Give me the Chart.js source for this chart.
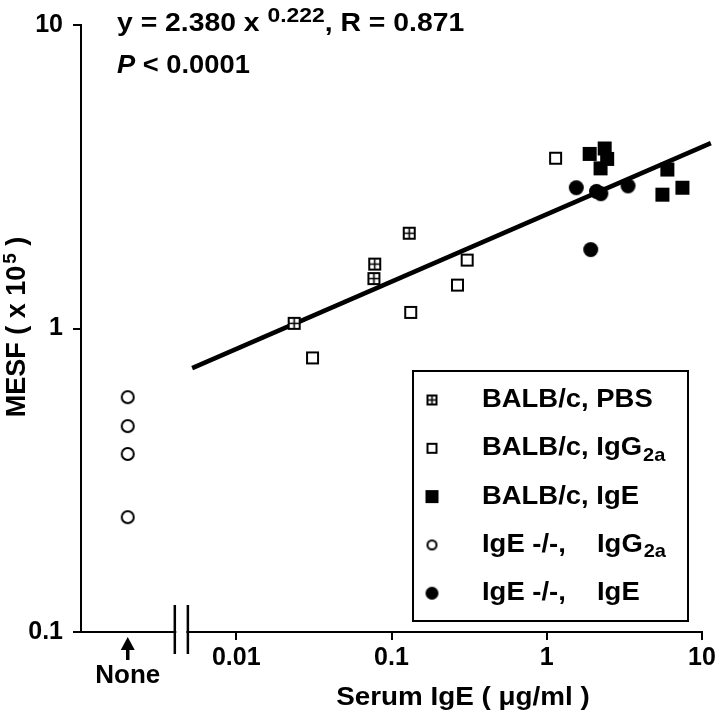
<!DOCTYPE html>
<html>
<head>
<meta charset="utf-8">
<script src="https://cdn.jsdelivr.net/npm/chart.js@4.4.1/dist/chart.umd.min.js"></script>
<style>
  html, body { margin: 0; padding: 0; background: #fff; }
  #wrap { width: 720px; height: 718px; }
</style>
</head>
<body>
<div id="wrap"><canvas id="chart" width="720" height="718"></canvas></div>
<script>
/* MESF vs serum IgE, log-log scatter with power-law fit */

var FONT = '"Liberation Sans", Arial, Helvetica, sans-serif';

// x = serum IgE (ug/ml), y = MESF (x 10^5)
var pbsX = [0.0236, 0.077, 0.078, 0.130];
var pbsY = [1.04, 1.46, 1.63, 2.06];
var bIgg2aX = [0.031, 0.133, 0.266, 0.307, 1.14];
var bIgg2aY = [0.80, 1.13, 1.39, 1.68, 3.64];
var bIgeX = [1.89, 2.22, 2.36, 2.45, 5.56, 5.98, 7.48];
var bIgeY = [3.76, 3.37, 3.92, 3.62, 2.76, 3.34, 2.91];
var koIgg2aX = [0.002, 0.002, 0.002, 0.002]; // plotted at "None"
var koIgg2aY = [0.239, 0.386, 0.477, 0.594];
var koIgeX = [1.55, 1.92, 2.09, 2.23, 3.34];
var koIgeY = [2.91, 1.82, 2.83, 2.78, 2.95];

// regression line end points
var fitX = [0.0052, 11.4];
var fitY = [0.74, 4.08];

var xTicks = [0.01, 0.1, 1, 10];
var xTickLabels = ['0.01', '0.1', '1', '10'];
var yTicks = [0.1, 1, 10];
var yTickLabels = ['0.1', '1', '10'];
var noneX = 0.002;
var noneLabel = 'None';
var breakX = [0.00402, 0.00488];

var legendMain = ['BALB/c, PBS', 'BALB/c, IgG', 'BALB/c, IgE', 'IgE -/-,', 'IgE -/-,'];
var legendSecond = ['', '', '', 'IgG', 'IgE'];
var legendSub = ['', '2a', '', '2a', ''];
var legendKinds = ['cross', 'open', 'filled', 'ring', 'dot'];

var eqParts = ['y = 2.380 x ', '0.222', ', R = 0.871'];
var pParts = ['P', ' < 0.0001'];
var xTitle = 'Serum IgE ( \u03bcg/ml )';
var yTitle = ['MESF ( x 10', '5', ' )'];

function makeMarker(kind, size) {
  var pad = 2;
  var c = document.createElement('canvas');
  c.width = size + pad * 2;
  c.height = size + pad * 2;
  var g = c.getContext('2d');
  var s = size, m = pad, mid = pad + size / 2;
  g.strokeStyle = '#000';
  g.fillStyle = '#000';
  g.lineWidth = 2;
  if (kind === 'cross' || kind === 'open') {
    g.fillStyle = '#fff';
    g.fillRect(m + 1, m + 1, s - 2, s - 2);
    g.strokeRect(m + 1, m + 1, s - 2, s - 2);
    if (kind === 'cross') {
      g.lineWidth = 1.6;
      g.beginPath();
      g.moveTo(mid, m + 1); g.lineTo(mid, m + s - 1);
      g.moveTo(m + 1, mid); g.lineTo(m + s - 1, mid);
      g.stroke();
    }
  } else if (kind === 'filled') {
    g.fillRect(m, m, s, s);
  } else if (kind === 'ring') {
    g.fillStyle = '#fff';
    g.beginPath();
    g.arc(mid, mid, s / 2 - 1, 0, Math.PI * 2);
    g.fill();
    g.stroke();
  } else {
    g.beginPath();
    g.arc(mid, mid, s / 2, 0, Math.PI * 2);
    g.fill();
  }
  return c;
}

var plotMarkers = {
  cross: makeMarker('cross', 13),
  open: makeMarker('open', 13),
  filled: makeMarker('filled', 14),
  ring: makeMarker('ring', 14),
  dot: makeMarker('dot', 15)
};
var legendMarkers = {
  cross: makeMarker('cross', 11),
  open: makeMarker('open', 11),
  filled: makeMarker('filled', 13),
  ring: makeMarker('ring', 11),
  dot: makeMarker('dot', 13)
};

function toPoints(xs, ys) {
  return xs.map(function (x, i) { return { x: x, y: ys[i] }; });
}

function scatterSet(label, xs, ys, kind) {
  return {
    type: 'scatter',
    label: label,
    data: toPoints(xs, ys),
    pointStyle: plotMarkers[kind],
    pointRadius: 7
  };
}

// the original lettering is a little wider than Liberation Sans
function stretchText(ctx, text, x, y, sx) {
  ctx.save();
  ctx.translate(x, y);
  ctx.scale(sx, 1);
  ctx.fillText(text, 0, 0);
  ctx.restore();
  return ctx.measureText(text).width * sx;
}

var overlay = {
  id: 'overlay',
  afterDraw: function (chart) {
    var ctx = chart.ctx;
    var xs = chart.scales.x;
    var area = chart.chartArea;
    var i, x;
    ctx.save();
    ctx.fillStyle = '#000';
    ctx.strokeStyle = '#000';

    // equation + P value
    ctx.textAlign = 'left';
    ctx.textBaseline = 'alphabetic';
    x = 117;
    ctx.font = 'bold 26px ' + FONT;
    x += stretchText(ctx, eqParts[0], x, 31, 1.09);
    ctx.font = 'bold 21px ' + FONT;
    x += stretchText(ctx, eqParts[1], x, 22, 1.09);
    ctx.font = 'bold 26px ' + FONT;
    stretchText(ctx, eqParts[2], x, 31, 1.09);

    x = 117;
    ctx.font = 'italic bold 26px ' + FONT;
    x += stretchText(ctx, pParts[0], x, 73, 1.05);
    ctx.font = 'bold 26px ' + FONT;
    stretchText(ctx, pParts[1], x, 73, 1.05);

    // axis break
    var b1 = xs.getPixelForValue(breakX[0]);
    var b2 = xs.getPixelForValue(breakX[1]);
    ctx.fillStyle = '#fff';
    ctx.fillRect(b1 + 1.5, area.bottom - 3, b2 - b1 - 3, 6);
    ctx.fillStyle = '#000';
    ctx.lineWidth = 2.5;
    ctx.beginPath();
    ctx.moveTo(b1, area.bottom - 27); ctx.lineTo(b1, area.bottom + 22);
    ctx.moveTo(b2, area.bottom - 27); ctx.lineTo(b2, area.bottom + 22);
    ctx.stroke();

    // "None" arrow and label
    var nx = xs.getPixelForValue(noneX);
    ctx.lineWidth = 3.5;
    ctx.beginPath();
    ctx.moveTo(nx, area.bottom + 28); ctx.lineTo(nx, area.bottom + 14);
    ctx.stroke();
    ctx.beginPath();
    ctx.moveTo(nx, area.bottom + 5);
    ctx.lineTo(nx + 7, area.bottom + 18);
    ctx.lineTo(nx - 7, area.bottom + 18);
    ctx.closePath();
    ctx.fill();
    ctx.font = 'bold 26px ' + FONT;
    ctx.textAlign = 'center';
    ctx.textBaseline = 'middle';
    ctx.fillText(noneLabel, nx, 676);

    // x title
    ctx.textAlign = 'left';
    ctx.font = 'bold 26px ' + FONT;
    var tw = ctx.measureText(xTitle).width * 1.07;
    stretchText(ctx, xTitle, 463 - tw / 2, 698, 1.07);

    // y title (rotated, with superscript)
    ctx.save();
    ctx.translate(18, 328);
    ctx.rotate(-Math.PI / 2);
    ctx.font = 'bold 27px ' + FONT;
    var w1 = ctx.measureText(yTitle[0]).width;
    var w3 = ctx.measureText(yTitle[2]).width;
    ctx.font = 'bold 19px ' + FONT;
    var w2 = ctx.measureText(yTitle[1]).width;
    var sx = -(w1 + w2 + w3) / 2;
    ctx.font = 'bold 27px ' + FONT;
    ctx.fillText(yTitle[0], sx, 0);
    ctx.font = 'bold 19px ' + FONT;
    ctx.fillText(yTitle[1], sx + w1 + 2, -7);
    ctx.font = 'bold 27px ' + FONT;
    ctx.fillText(yTitle[2], sx + w1 + w2 + 2, 0);
    ctx.restore();

    // legend box
    ctx.lineWidth = 2;
    ctx.strokeRect(413, 371, 275, 250);
    for (i = 0; i < legendMain.length; i++) {
      var ry = 400 + i * 48.3;
      var mk = legendMarkers[legendKinds[i]];
      ctx.drawImage(mk, 432 - mk.width / 2, ry - mk.height / 2);
      ctx.font = 'bold 26px ' + FONT;
      var ex = 482 + stretchText(ctx, legendMain[i], 482, ry, 1.055);
      if (legendSecond[i]) {
        ex = 597 + stretchText(ctx, legendSecond[i], 597, ry, 1.055);
      }
      if (legendSub[i]) {
        ctx.font = 'bold 19px ' + FONT;
        stretchText(ctx, legendSub[i], ex + 1, ry + 7, 1.055);
      }
    }
    ctx.restore();
  }
};

var tickFont = { family: FONT, size: 25, weight: 'bold' };

var chart = new Chart(document.getElementById('chart').getContext('2d'), {
  data: {
    datasets: [
      scatterSet('BALB/c, PBS', pbsX, pbsY, 'cross'),
      scatterSet('BALB/c, IgG2a', bIgg2aX, bIgg2aY, 'open'),
      scatterSet('BALB/c, IgE', bIgeX, bIgeY, 'filled'),
      scatterSet('IgE -/-, IgG2a', koIgg2aX, koIgg2aY, 'ring'),
      scatterSet('IgE -/-, IgE', koIgeX, koIgeY, 'dot'),
      {
        type: 'line',
        label: 'fit',
        data: toPoints(fitX, fitY),
        borderColor: '#000',
        borderWidth: 4.5,
        pointRadius: 0,
        fill: false,
        clip: false
      }
    ]
  },
  options: {
    responsive: false,
    animation: false,
    events: [],
    layout: { padding: { top: 15, right: 18, left: 0, bottom: 0 } },
    plugins: {
      legend: { display: false },
      tooltip: { enabled: false }
    },
    scales: {
      x: {
        type: 'logarithmic',
        min: 0.001,
        max: 10,
        afterBuildTicks: function (s) {
          s.ticks = xTicks.map(function (v) { return { value: v }; });
        },
        afterFit: function (s) { s.height = 86; },
        ticks: {
          autoSkip: false,
          maxRotation: 0,
          padding: 3,
          color: '#000',
          font: tickFont,
          callback: function (v, i) { return xTickLabels[i]; }
        },
        grid: { drawOnChartArea: false, drawTicks: true, tickLength: 8, color: '#000', lineWidth: 2 },
        border: { display: true, color: '#000', width: 2 }
      },
      y: {
        type: 'logarithmic',
        min: 0.1,
        max: 10,
        afterBuildTicks: function (s) {
          s.ticks = yTicks.map(function (v) { return { value: v }; });
        },
        afterFit: function (s) { s.width = 81; },
        ticks: {
          autoSkip: false,
          padding: 10,
          color: '#000',
          font: tickFont,
          callback: function (v, i) { return yTickLabels[i]; }
        },
        grid: { drawOnChartArea: false, drawTicks: true, tickLength: 8, color: '#000', lineWidth: 2 },
        border: { display: true, color: '#000', width: 2 }
      }
    }
  },
  plugins: [overlay]
});
</script>
</body>
</html>
